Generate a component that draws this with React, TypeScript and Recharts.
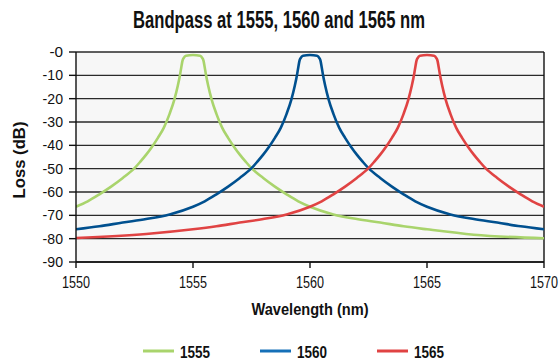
import React from "react";
import { LineChart, Line, XAxis, YAxis, CartesianGrid, ReferenceLine } from "recharts";

const wl1555 = [1550, 1550.5, 1551, 1551.5, 1552, 1552.5, 1552.75, 1553, 1553.25, 1553.5, 1553.75, 1554, 1554.2, 1554.35, 1554.45, 1554.5, 1554.55, 1554.6, 1554.7, 1555, 1555.3, 1555.4, 1555.45, 1555.5, 1555.55, 1555.65, 1555.8, 1556, 1556.25, 1556.5, 1556.75, 1557, 1557.25, 1557.5, 1558, 1558.5, 1559, 1559.5, 1560, 1561, 1562, 1563, 1564, 1565, 1567, 1570];
const loss1555 = [-66.3, -64, -61, -57.7, -54, -49.8, -47, -44, -40.6, -36.8, -32.5, -26.5, -20.5, -14.5, -9.5, -6.5, -3.8, -2.6, -1.6, -1.3, -1.6, -2.6, -3.8, -6.5, -9.5, -14.5, -20.5, -26.5, -32.5, -36.8, -40.6, -44, -47, -49.8, -54, -57.7, -61, -64, -66.3, -69.6, -71.6, -73.1, -74.7, -76, -78.3, -79.8];

const wl1560 = [1550, 1551, 1552, 1553, 1554, 1555, 1555.5, 1556, 1556.5, 1557, 1557.5, 1557.75, 1558, 1558.25, 1558.5, 1558.75, 1559, 1559.2, 1559.35, 1559.45, 1559.5, 1559.55, 1559.6, 1559.7, 1560, 1560.3, 1560.4, 1560.45, 1560.5, 1560.55, 1560.65, 1560.8, 1561, 1561.25, 1561.5, 1561.75, 1562, 1562.25, 1562.5, 1563, 1563.5, 1564, 1564.5, 1565, 1566, 1567, 1568, 1569, 1570];
const loss1560 = [-76, -74.7, -73.1, -71.6, -69.6, -66.3, -64, -61, -57.7, -54, -49.8, -47, -44, -40.6, -36.8, -32.5, -26.5, -20.5, -14.5, -9.5, -6.5, -3.8, -2.6, -1.6, -1.3, -1.6, -2.6, -3.8, -6.5, -9.5, -14.5, -20.5, -26.5, -32.5, -36.8, -40.6, -44, -47, -49.8, -54, -57.7, -61, -64, -66.3, -69.6, -71.6, -73.1, -74.7, -76];

const wl1565 = [1550, 1553, 1555, 1556, 1557, 1558, 1559, 1560, 1560.5, 1561, 1561.5, 1562, 1562.5, 1562.75, 1563, 1563.25, 1563.5, 1563.75, 1564, 1564.2, 1564.35, 1564.45, 1564.5, 1564.55, 1564.6, 1564.7, 1565, 1565.3, 1565.4, 1565.45, 1565.5, 1565.55, 1565.65, 1565.8, 1566, 1566.25, 1566.5, 1566.75, 1567, 1567.25, 1567.5, 1568, 1568.5, 1569, 1569.5, 1570];
const loss1565 = [-79.7, -78, -76, -74.7, -73.1, -71.6, -69.6, -66.3, -64, -61, -57.7, -54, -49.8, -47, -44, -40.6, -36.8, -32.5, -26.5, -20.5, -14.5, -9.5, -6.5, -3.8, -2.6, -1.6, -1.3, -1.6, -2.6, -3.8, -6.5, -9.5, -14.5, -20.5, -26.5, -32.5, -36.8, -40.6, -44, -47, -49.8, -54, -57.7, -61, -64, -66.3];

const xTicks = [1550, 1555, 1560, 1565, 1570];
const yTicks = [-90, -80, -70, -60, -50, -40, -30, -20, -10, 0];
const seriesNames = ["1555", "1560", "1565"];
const seriesColors = ["#a9d46c", "#00508f", "#e04343"];
const legendLineColors = ["#a9d46c", "#1670b8", "#e04343"];
const title = "Bandpass at 1555, 1560 and 1565 nm";
const xLabel = "Wavelength (nm)";
const yLabel = "Loss (dB)";

const toData = (wl: number[], loss: number[]) => wl.map((w, i) => ({ wl: w, loss: loss[i] }));
const seriesData = [toData(wl1555, loss1555), toData(wl1560, loss1560), toData(wl1565, loss1565)];

const FONT = '"Liberation Sans", Arial, sans-serif';

const XTick = (props: any) => {
  const { x, y, payload } = props;
  return (
    <text x={x} y={y + 20} textAnchor="middle" fontSize={16} fill="#111" fontFamily={FONT} textLength={28} lengthAdjust="spacingAndGlyphs">
      {String(payload.value)}
    </text>
  );
};

const YTick = (props: any) => {
  const { x, y, payload } = props;
  const label = payload.value === 0 ? "-0" : String(payload.value);
  return (
    <text x={x - 6} y={y + 5} textAnchor="end" fontSize={15} fill="#111" fontFamily={FONT} textLength={label.length * 6.8} lengthAdjust="spacingAndGlyphs">
      {label}
    </text>
  );
};

export default function App() {
  return (
    <div style={{ position: "fixed", left: 0, top: 0, width: 560, height: 362, background: "#fff", fontFamily: FONT }}>
      <LineChart width={560} height={362} margin={{ top: 52, right: 16, bottom: 70, left: 0 }}>
        <CartesianGrid vertical={false} stroke="#2a2a2a" strokeWidth={1.4} fill="#f7f7f7" />
        <XAxis
          type="number"
          dataKey="wl"
          domain={[1550, 1570]}
          ticks={xTicks}
          allowDataOverflow
          height={30}
          tickSize={6}
          tickMargin={0}
          tick={<XTick />}
          axisLine={{ stroke: "#111", strokeWidth: 1.4 }}
          tickLine={{ stroke: "#111", strokeWidth: 1.4 }}
        />
        <YAxis
          type="number"
          domain={[-90, 0]}
          ticks={yTicks}
          width={76}
          tickSize={7}
          tickMargin={0}
          tick={<YTick />}
          axisLine={{ stroke: "#111", strokeWidth: 1.4 }}
          tickLine={{ stroke: "#111", strokeWidth: 1.4 }}
        />
        <ReferenceLine x={1570} stroke="#111" strokeWidth={1.4} />
        {seriesData.map((d, i) => (
          <Line
            key={seriesNames[i]}
            data={d}
            dataKey="loss"
            type="monotone"
            stroke={seriesColors[i]}
            strokeWidth={2.6}
            dot={false}
            activeDot={false}
            isAnimationActive={false}
          />
        ))}
      </LineChart>
      <svg width={560} height={362} style={{ position: "absolute", left: 0, top: 0, pointerEvents: "none" }}>
        <text x={279} y={28} textAnchor="middle" fontSize={23} fontWeight={700} fill="#111" fontFamily={FONT} textLength={292} lengthAdjust="spacingAndGlyphs">
          {title}
        </text>
        <text transform="translate(25,160) rotate(-90)" x={0} y={0} textAnchor="middle" fontSize={17} fontWeight={700} fill="#111" fontFamily={FONT} textLength={77} lengthAdjust="spacingAndGlyphs">
          {yLabel}
        </text>
        <text x={310} y={315} textAnchor="middle" fontSize={17} fontWeight={700} fill="#111" fontFamily={FONT} textLength={117} lengthAdjust="spacingAndGlyphs">
          {xLabel}
        </text>
        {seriesNames.map((n, i) => {
          const lx = 143 + i * 117;
          return (
            <g key={n}>
              <line x1={lx} x2={lx + 31} y1={351} y2={351} stroke={legendLineColors[i]} strokeWidth={3} />
              <text x={lx + 37} y={358} fontSize={17} fontWeight={700} fill="#111" fontFamily={FONT} textLength={30} lengthAdjust="spacingAndGlyphs">
                {n}
              </text>
            </g>
          );
        })}
      </svg>
    </div>
  );
}
